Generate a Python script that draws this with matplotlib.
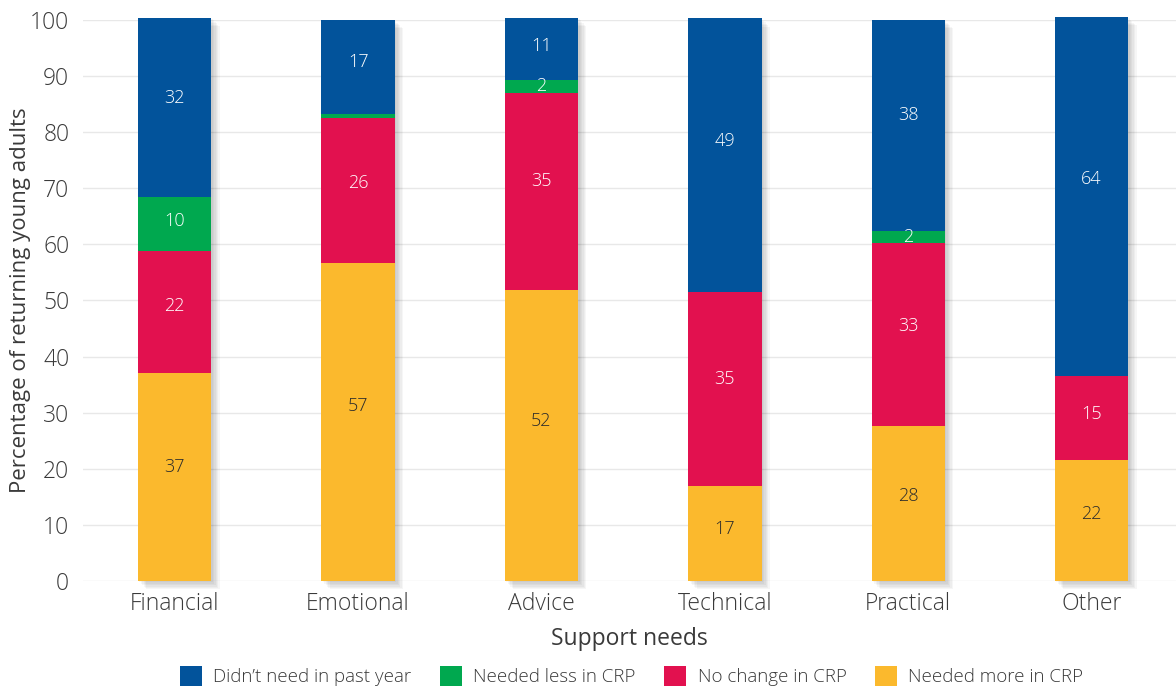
import matplotlib

matplotlib.use("Agg")
import matplotlib.pyplot as plt
import matplotlib.patheffects as pe
import numpy as np

plt.rcParams["font.family"] = ["Open Sans", "DejaVu Sans"]
plt.rcParams["font.weight"] = "light"

categories = ["Financial", "Emotional", "Advice", "Technical", "Practical", "Other"]
needed_more = [37.1, 56.7, 51.9, 16.9, 27.6, 21.6]
no_change = [21.7, 25.8, 35.1, 34.6, 32.6, 14.9]
needed_less = [9.6, 0.7, 2.3, 0.0, 2.2, 0.0]
didnt_need = [32.0, 16.8, 11.1, 48.8, 37.6, 64.0]

series = [
    ("Needed more in CRP", needed_more, "#FBB92D", "#2b2b2b"),
    ("No change in CRP", no_change, "#E2114F", "white"),
    ("Needed less in CRP", needed_less, "#00A84F", "white"),
    ("Didn’t need in past year", didnt_need, "#02539B", "white"),
]

TEXT = "#3a3a3a"
LABEL_POS = 0.55  # where inside a segment its value label sits
x = np.arange(len(categories))
width = 0.40

fig = plt.figure(figsize=(11.76, 6.86), dpi=100)
ax = fig.add_axes([0.0706, 0.153, 0.9294, 0.818])

# soft drop shadow behind each full stack
totals = np.sum([s[1] for s in series], axis=0)
shadow = [pe.SimplePatchShadow(offset=(d, -d), shadow_rgbFace="black", alpha=0.035)
          for d in (6, 5, 4, 3, 2, 1)]
ax.bar(x, totals, width, color="white", zorder=1, clip_on=False,
       path_effects=shadow + [pe.Normal()])

bottom = np.zeros(len(categories))
handles = {}
for name, vals, color, tcolor in series:
    vals = np.array(vals)
    bars = ax.bar(x, vals, width, bottom=bottom, color=color, zorder=2,
                  clip_on=False, label=name)
    handles[name] = bars
    for xi, b, v in zip(x, bottom, vals):
        if v >= 1.5:
            frac = LABEL_POS if v > 5 else 0.5
            ax.text(xi, b + v * frac, f"{v:.0f}", ha="center", va="center",
                    color=tcolor, fontsize=13, zorder=3)
    bottom += vals

ax.set_xlim(-0.5, 5.46)
ax.set_ylim(0, 100)
ax.set_yticks(range(0, 101, 10))
ax.set_xticks(x)
ax.set_xticklabels(categories)
ax.tick_params(length=0, labelsize=16.5, colors=TEXT, pad=8)
ax.tick_params(axis="y", pad=10)
ax.grid(axis="y", color="#e8e8e8", linewidth=1, zorder=0)
ax.set_axisbelow(True)
for s in ax.spines.values():
    s.set_visible(False)

ax.set_xlabel("Support needs", fontsize=16.5, color=TEXT, labelpad=8)
ax.set_ylabel("Percentage of returning young adults", fontsize=16, color=TEXT)
ax.yaxis.set_label_coords(-0.048, 0.5)

order = ["Didn’t need in past year", "Needed less in CRP", "No change in CRP", "Needed more in CRP"]
fig.legend([handles[n] for n in order], order,
           loc="lower center", bbox_to_anchor=(0.537, -0.025), ncol=4, frameon=False,
           fontsize=13.5, handlelength=1.2, handleheight=1.2, columnspacing=1.5,
           handletextpad=0.6, labelcolor=TEXT)

fig.savefig("out.png", dpi=100)
